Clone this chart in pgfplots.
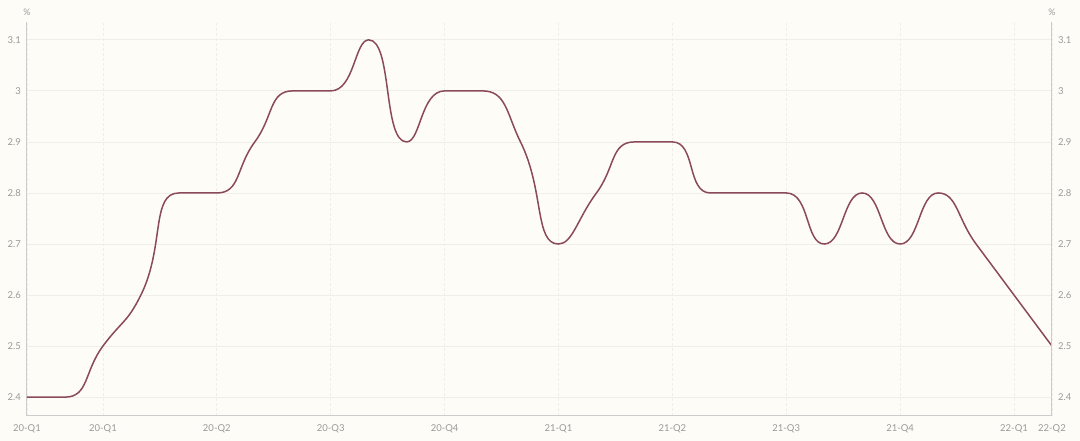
\documentclass[border=0pt]{standalone}
\usepackage{pgfplots}
\pgfplotsset{compat=1.18}
\usepackage{fontspec}
\setmainfont{Lato}
\definecolor{bg}{HTML}{FDFCF6}
\definecolor{linec}{HTML}{8A4A5B}
\definecolor{axc}{HTML}{CCCCCC}
\definecolor{txt}{HTML}{9A9A9A}
\definecolor{gridc}{HTML}{F0EEE8}
% ---- ECharts-like clamped smoothing as a pgf plot handler ----
\ExplSyntaxOn
\cs_new:Npn \echfp #1 { \fp_to_decimal:n {#1} }
\ExplSyntaxOff
\makeatletter
\newcount\ech@n
\newcount\ech@i
\def\ech@s{0.5}
\def\pgfplothandlerecharts{%
  \def\pgf@plotstreamstart{%
    \global\ech@n=0
    \global\let\pgf@plotstreampoint=\ech@point
    \global\let\pgf@plotstreamspecial=\pgfutil@gobble
    \global\let\pgf@plotstreamend=\ech@finish
  }%
}
\def\ech@point#1{%
  \pgf@process{#1}%
  \expandafter\xdef\csname ech@x@\the\ech@n\endcsname{\strip@pt\pgf@x}%
  \expandafter\xdef\csname ech@y@\the\ech@n\endcsname{\strip@pt\pgf@y}%
  \global\advance\ech@n by 1\relax
}
\def\ech@get#1#2#3{%
  \edef#2{\csname ech@x@#1\endcsname}%
  \edef#3{\csname ech@y@#1\endcsname}%
}
\def\ech@finish{%
  \ifnum\ech@n>0
    \ech@get{0}\ech@x\ech@y
    \pgf@plot@first@action{\pgfqpoint{\ech@x pt}{\ech@y pt}}%
    \let\ech@cpx\ech@x \let\ech@cpy\ech@y
    \let\ech@px\ech@x \let\ech@py\ech@y
    \ech@i=1
    \loop\ifnum\ech@i<\ech@n
      \ech@step
      \advance\ech@i by 1\relax
    \repeat
  \fi
}
\def\ech@step{%
  \ech@get{\the\ech@i}\ech@x\ech@y
  \edef\ech@ni{\the\numexpr\ech@i+1\relax}%
  \ifnum\ech@ni<\ech@n
    \ech@get{\ech@ni}\ech@nx\ech@ny
    \edef\ech@lp{\echfp{sqrt((\ech@x-\ech@px)^2+(\ech@y-\ech@py)^2)}}%
    \edef\ech@ln{\echfp{sqrt((\ech@nx-\ech@x)^2+(\ech@ny-\ech@y)^2)}}%
    \edef\ech@r{\echfp{\ech@ln/(\ech@ln+\ech@lp)}}%
    \edef\ech@vx{\echfp{\ech@nx-\ech@px}}%
    \edef\ech@vy{\echfp{\ech@ny-\ech@py}}%
    \edef\ech@ncx{\echfp{\ech@x+\ech@vx*\ech@s*\ech@r}}%
    \edef\ech@ncy{\echfp{\ech@y+\ech@vy*\ech@s*\ech@r}}%
    \edef\ech@ncx{\echfp{max(min(\ech@ncx,max(\ech@nx,\ech@x)),min(\ech@nx,\ech@x))}}%
    \edef\ech@ncy{\echfp{max(min(\ech@ncy,max(\ech@ny,\ech@y)),min(\ech@ny,\ech@y))}}%
    \edef\ech@ax{\echfp{\ech@x-(\ech@ncx-\ech@x)*\ech@lp/\ech@ln}}%
    \edef\ech@ay{\echfp{\ech@y-(\ech@ncy-\ech@y)*\ech@lp/\ech@ln}}%
    \edef\ech@ax{\echfp{max(min(\ech@ax,max(\ech@px,\ech@x)),min(\ech@px,\ech@x))}}%
    \edef\ech@ay{\echfp{max(min(\ech@ay,max(\ech@py,\ech@y)),min(\ech@py,\ech@y))}}%
    \edef\ech@ncx{\echfp{\ech@x+(\ech@x-\ech@ax)*\ech@ln/\ech@lp}}%
    \edef\ech@ncy{\echfp{\ech@y+(\ech@y-\ech@ay)*\ech@ln/\ech@lp}}%
  \else
    \let\ech@ax\ech@x \let\ech@ay\ech@y
    \let\ech@ncx\ech@x \let\ech@ncy\ech@y
  \fi
  \pgfpathcurveto{\pgfqpoint{\ech@cpx pt}{\ech@cpy pt}}%
                 {\pgfqpoint{\ech@ax pt}{\ech@ay pt}}%
                 {\pgfqpoint{\ech@x pt}{\ech@y pt}}%
  \let\ech@cpx\ech@ncx \let\ech@cpy\ech@ncy
  \let\ech@px\ech@x \let\ech@py\ech@y
}
\tikzset{echarts smooth/.code={\let\tikz@plot@handler=\pgfplothandlerecharts}}
\makeatother
\begin{document}
\begin{tikzpicture}
\path[use as bounding box, fill=bg] (0,0) rectangle (1080pt,441pt);
\pgfplotsset{
  base/.style={
    scale only axis, width=1025pt, height=394pt,
    at={(27pt,25pt)}, anchor=south west,
    xmin=0, xmax=27, ymin=2.363, ymax=3.135,
    ytick={2.4,2.5,2.6,2.7,2.8,2.9,3.0,3.1},
    major tick length=0pt,
    tick label style={font=\fontsize{9.5}{11}\selectfont, text=txt},
    /pgf/number format/assume math mode=true,
    yticklabel={\pgfmathprintnumber[fixed,precision=1]{\tick}},
  }
}
\begin{axis}[base,
  axis x line*=bottom, axis y line*=left,
  axis line style={draw=axc, line width=1pt},
  xtick={0,2,5,8,11,14,17,20,23,26,27},
  xticklabels={20-Q1,20-Q1,20-Q2,20-Q3,20-Q4,21-Q1,21-Q2,21-Q3,21-Q4,22-Q1,22-Q2},
  xticklabel style={anchor=north, inner sep=0pt, yshift=-8pt},
  yticklabel style={anchor=east, inner sep=0pt, xshift=-6pt},
  ymajorgrids,
  major y grid style={draw=gridc, line width=0.8pt},
  xmajorgrids,
  major x grid style={draw=gridc, line width=0.8pt, dash pattern=on 3pt off 2pt},
]
\addplot[linec, line width=1.5pt, echarts smooth] coordinates {
(0,2.4) (1,2.4) (2,2.5) (3,2.6) (4,2.8) (5,2.8) (6,2.9) (7,3.0) (8,3.0)
(9,3.1) (10,2.9) (11,3.0) (12,3.0) (13,2.9) (14,2.7) (15,2.8) (16,2.9)
(17,2.9) (18,2.8) (19,2.8) (20,2.8) (21,2.7) (22,2.8) (23,2.7) (24,2.8)
(25,2.7) (26,2.6) (27,2.5)
};
\end{axis}
\begin{axis}[base,
  hide x axis, axis y line*=right,
  axis line style={draw=axc, line width=1pt},
  yticklabel style={anchor=west, inner sep=0pt, xshift=6pt},
]
\addplot[draw=none] coordinates {(0,2.4)};
\end{axis}
\node[font=\fontsize{9}{10}\selectfont, text=txt] at (27pt,429pt) {\%};
\node[font=\fontsize{9}{10}\selectfont, text=txt] at (1052pt,429pt) {\%};
\end{tikzpicture}
\end{document}
